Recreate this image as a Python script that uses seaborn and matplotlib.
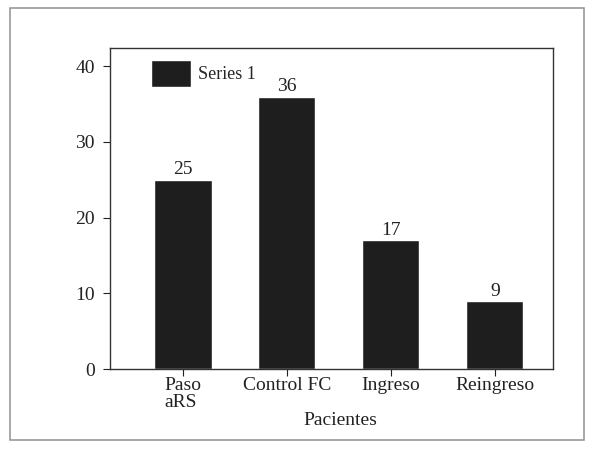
import matplotlib
matplotlib.use("Agg")
import matplotlib.pyplot as plt
import matplotlib.patches as mpatches
import seaborn as sns

# --- data ---
categories = ["Paso\naRS", "Control FC", "Ingreso", "Reingreso"]
values = [25, 36, 17, 9]
series_name = "Series 1"
x_title = "Pacientes"

sns.set_style("white", {'xtick.bottom': True, 'ytick.left': True})
plt.rcParams['font.family'] = ['Liberation Serif', 'DejaVu Serif']

fig = plt.figure(figsize=(5.89, 4.62), dpi=100)
ax = fig.add_axes([0.187, 0.201, 0.752, 0.695])

# outer frame around the whole chart
fig.patches.append(mpatches.Rectangle((0.017, 0.048), 0.975, 0.935, transform=fig.transFigure,
                                      fill=False, edgecolor='#9a9a9a', linewidth=1.2))

bar_color = '#1e1e1e'
sns.barplot(x=categories, y=values, color=bar_color, saturation=1, width=0.55,
            label=series_name, ax=ax)

ax.bar_label(ax.containers[0], padding=1, fontsize=14, color='#222222')

ax.set_xlim(-0.70, 3.56)
ax.set_ylim(0, 42.4)
ax.set_yticks([0, 10, 20, 30, 40])
ax.set_xlabel(x_title, fontsize=14, color='#222222', labelpad=0)
ax.xaxis.set_label_coords(0.52, -0.135)
ax.set_ylabel("")

ax.tick_params(axis='both', labelsize=14, colors='#222222', length=5, width=0.8, direction='out')
ax.tick_params(axis='y', pad=6)
ax.tick_params(axis='x', pad=1)
for lab in ax.get_xticklabels():
    lab.set_multialignment('left')
    lab.set_linespacing(0.95)
for s in ax.spines.values():
    s.set_color('#333333')
    s.set_linewidth(1.0)

ax.legend(loc='upper left', bbox_to_anchor=(0.085, 0.975), frameon=False, fontsize=13,
          handlelength=2.2, handleheight=1.95, handletextpad=0.4, borderaxespad=0,
          borderpad=0.2)

fig.savefig("out.png", dpi=100)
